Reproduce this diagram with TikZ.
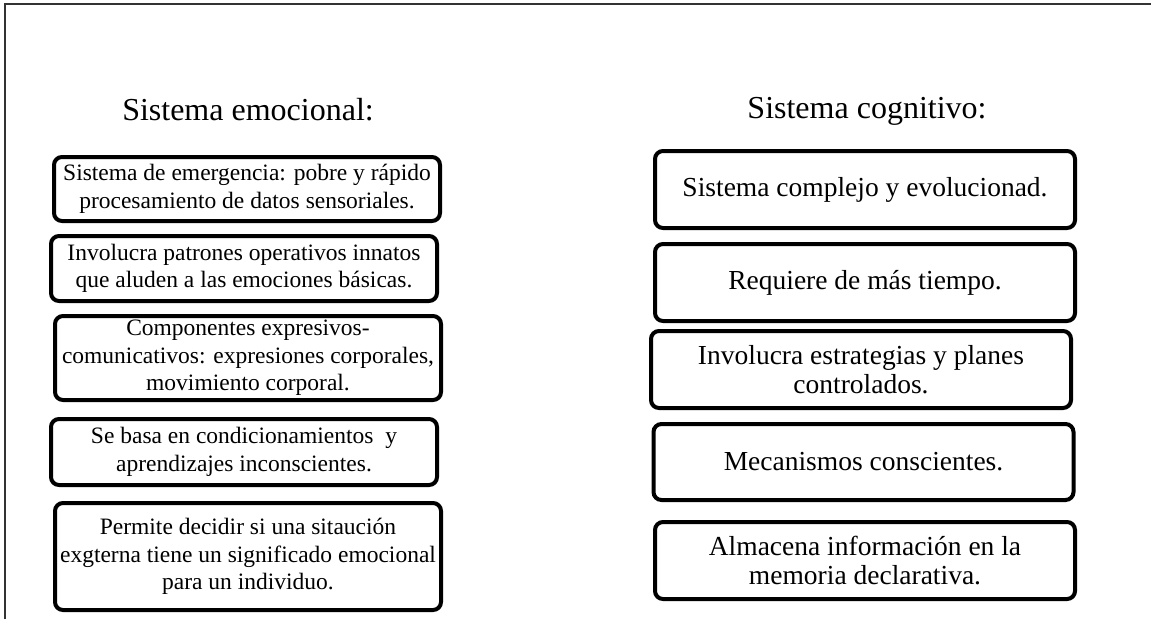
\documentclass[tikz,border=0pt]{standalone}
\usepackage{fontspec}
\setmainfont{Liberation Serif}
\begin{document}
\begin{tikzpicture}[x=1pt,y=-1pt,
  boxL/.style={draw=black,line width=4pt,rounded corners=8pt,inner sep=0pt,
    align=center,minimum width=386pt,font=\fontsize{23.5}{27.5}\selectfont},
  boxR/.style={draw=black,line width=4pt,rounded corners=8pt,inner sep=0pt,
    align=center,minimum width=420pt,font=\fontsize{27.5}{29.5}\selectfont},
  ttl/.style={anchor=base,inner sep=0pt,font=\fontsize{32}{36}\selectfont}]
\useasboundingbox (0,0) rectangle (1151,619);
\fill[white] (0,0) rectangle (1151,619);
\coordinate (fb) at (5,619);
\coordinate (fc) at (5,4);
\coordinate (fr) at (1151,4);
\draw[line width=1.5pt,black!80] (fb) -- (fc) -- (fr);
\node[ttl] (tL) at (248,120) {Sistema emocional:};
\node[ttl] (tR) at (867,118) {Sistema cognitivo:};
\node[boxL,minimum height=64pt] (L1) at (247,189) {Sistema de emergencia: pobre y rápido\\procesamiento de datos sensoriales.};
\node[boxL,minimum height=65pt] (L2) at (244,268.5) {Involucra patrones operativos innatos\\que aluden a las emociones básicas.};
\node[boxL,minimum height=84pt] (L3) at (248,358) {Componentes expresivos-\\comunicativos: expresiones corporales,\\movimiento corporal.};
\node[boxL,minimum height=66pt] (L4) at (244,452) {Se basa en condicionamientos~~y\\aprendizajes inconscientes.};
\node[boxL,minimum height=107pt] (L5) at (248,556.5) {Permite decidir si una sitaución\\exgterna tiene un significado emocional\\para un individuo.};
\node[boxR,minimum height=77pt] (R1) at (865,189.5) {Sistema complejo y evolucionad.};
\node[boxR,minimum height=77pt] (R2) at (865,282.5) {Requiere de más tiempo.};
\node[boxR,minimum height=77pt] (R3) at (861,369.5) {Involucra estrategias y planes\\controlados.};
\node[boxR,minimum height=76pt] (R4) at (863.5,462) {Mecanismos conscientes.};
\node[boxR,minimum height=77pt] (R5) at (865,560.5) {Almacena información en la\\memoria declarativa.};
\end{tikzpicture}
\end{document}
